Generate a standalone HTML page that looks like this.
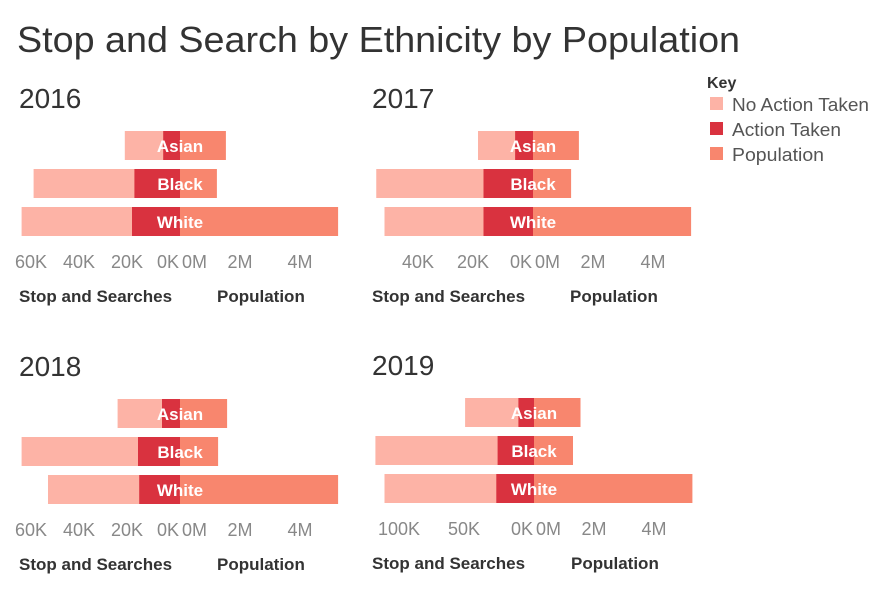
<!DOCTYPE html>
<html><head><meta charset="utf-8">
<style>
body{margin:0;background:#fff;}
svg{display:block;font-family:"Liberation Sans",sans-serif;}
</style></head>
<body>
<svg id="chart" width="889" height="600">
<text x="17" y="52" font-size="36" fill="#333" textLength="723" lengthAdjust="spacingAndGlyphs">Stop and Search by Ethnicity by Population</text>
<g>
<text x="707" y="88" font-size="16" font-weight="bold" fill="#333">Key</text>
<rect x="710" y="97" width="13" height="13" fill="#fdb3a6"/>
<text x="732" y="111" font-size="18" fill="#555" textLength="137" lengthAdjust="spacingAndGlyphs">No Action Taken</text>
<rect x="710" y="122" width="13" height="13" fill="#d9323f"/>
<text x="732" y="136" font-size="18" fill="#555" textLength="109" lengthAdjust="spacingAndGlyphs">Action Taken</text>
<rect x="710" y="147" width="13" height="13" fill="#f8866e"/>
<text x="732" y="161" font-size="18" fill="#555" textLength="92" lengthAdjust="spacingAndGlyphs">Population</text>
</g>
</svg>
<script>
const years = ["2016","2017","2018","2019"];
const ethnicities = ["Asian","Black","White"];
// total stop and searches (K) per year per ethnicity
const totalSearches2016 = [23, 61, 66];
const totalSearches2017 = [20, 57, 54];
const totalSearches2018 = [26, 66, 55];
const totalSearches2019 = [53, 122, 115];
// action taken (K)
const actionTaken2016 = [7, 19, 20];
const actionTaken2017 = [6.5, 18, 18];
const actionTaken2018 = [7.5, 17.5, 17];
const actionTaken2019 = [12, 28, 29];
// population (M)
const population2016 = [1.53, 1.23, 5.27];
const population2017 = [1.53, 1.27, 5.27];
const population2018 = [1.57, 1.27, 5.27];
const population2019 = [1.55, 1.3, 5.28];
const leftTicks2016 = [0, 20, 40, 60];
const leftTicks2017 = [0, 20, 40];
const leftTicks2018 = [0, 20, 40, 60];
const leftTicks2019 = [0, 50, 100];
const popTicks = [0, 2, 4];

const totals=[totalSearches2016,totalSearches2017,totalSearches2018,totalSearches2019];
const actions=[actionTaken2016,actionTaken2017,actionTaken2018,actionTaken2019];
const pops=[population2016,population2017,population2018,population2019];
const lticks=[leftTicks2016,leftTicks2017,leftTicks2018,leftTicks2019];
const panels=[{zero:180,top:131,kpx:2.4,yearX:19,yearY:108},{zero:533,top:131,kpx:2.75,yearX:372,yearY:108},
{zero:180,top:399,kpx:2.4,yearX:19,yearY:376},{zero:534,top:398,kpx:1.3,yearX:372,yearY:375}];
const NS="http://www.w3.org/2000/svg";
const svg=document.getElementById('chart');
function mk(tag,attrs,parent){const e=document.createElementNS(NS,tag);for(const k in attrs)e.setAttribute(k,attrs[k]);parent.appendChild(e);return e;}
panels.forEach((p,i)=>{
  const g=mk('g',{},svg);
  
  
  const yl=mk('text',{x:p.yearX,y:p.yearY,'font-size':28,fill:'#333'},g);
  yl.textContent=years[i];
  
  
  const xL=v=>p.zero-v*p.kpx;
  const xP=v=>p.zero+v*30;
  ethnicities.forEach((eth,j)=>{
    const y=p.top+j*38,h=29;
    const r1=mk('rect',{x:xL(totals[i][j]),y:y,width:totals[i][j]*p.kpx,height:h,fill:'#fdb3a6'},g);
    
    
    const r2=mk('rect',{x:xL(actions[i][j]),y:y,width:actions[i][j]*p.kpx,height:h,fill:'#d9323f'},g);
    
    
    const r3=mk('rect',{x:p.zero,y:y,width:pops[i][j]*30,height:h,fill:'#f8866e'},g);
    
    
    const t=mk('text',{x:p.zero,y:y+21,'font-size':17,'font-weight':'bold',fill:'#fff','text-anchor':'middle'},g);
    t.textContent=eth;
    
    
  });
  const ty=p.top+137;
  lticks[i].forEach(v=>{
    const x=v===0?p.zero-1:xL(v)-5;
    const t=mk('text',{x:x,y:ty,'font-size':18,fill:'#888','text-anchor':v===0?'end':'middle'},g);
    t.textContent=v+'K';
    
    
  });
  popTicks.forEach(v=>{
    const x=v===0?p.zero+2:xP(v);
    const t=mk('text',{x:x,y:ty,'font-size':18,fill:'#888','text-anchor':v===0?'start':'middle'},g);
    t.textContent=v+'M';
    
    
  });
  const a1=mk('text',{x:p.yearX,y:p.top+171,'font-size':17,'font-weight':'bold',fill:'#333'},g);
  a1.textContent='Stop and Searches';
  
  
  const a2=mk('text',{x:p.zero+37,y:p.top+171,'font-size':17,'font-weight':'bold',fill:'#333'},g);
  a2.textContent='Population';
  
  
});
</script>
</body></html>
